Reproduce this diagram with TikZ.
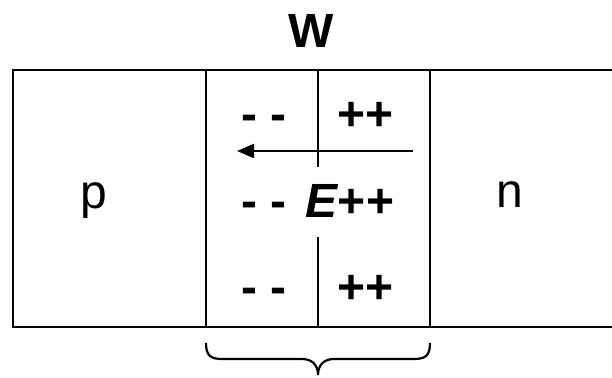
\documentclass[tikz,border=0pt]{standalone}
\usepackage{fontspec}
\setmainfont{Liberation Sans}
\usetikzlibrary{arrows.meta}
\begin{document}
\begin{tikzpicture}[x=1pt,y=-1pt,
  frame/.style={line width=2.8pt},
  divider/.style={line width=2.3pt},
  lbl/.style={inner sep=0pt,anchor=base,font=\fontsize{48}{58}\selectfont},
  charge/.style={lbl,font=\fontsize{48}{58}\selectfont\bfseries},
  field/.style={line width=2.3pt,-{Triangle[length=17pt,width=14pt]}},
  bracepath/.style={line width=2.2pt}]
\useasboundingbox (0,0) rectangle (612,377);
\clip (0,0) rectangle (612,377);
% frame (right side runs off the picture)
\draw[frame] (640,70) -- (13,70) -- (13,327) -- (640,327);
% dividers
\draw[divider] (206,70) -- (206,327);
\draw[divider] (430,70) -- (430,327);
\draw[divider] (318,70) -- (318,167);
\draw[divider] (318,237) -- (318,327);
% labels
\node[lbl,font=\fontsize{48}{58}\selectfont\bfseries] (W) at (311.5,48) {W};
\node[lbl] (p) at (94,208) {p};
\node[lbl] (n) at (510,207) {n};
\node[charge] (m1) at (264,130) {- -};
\node[charge] (p1) at (365.5,130) {++};
\node[charge] (m2) at (264,217) {- -};
\node[charge] (p2) at (350,217) {\itshape E\upshape++};
\node[charge] (m3) at (264,303) {- -};
\node[charge] (p3) at (365.5,303) {++};
% field arrow
\coordinate (a0) at (413,151);
\coordinate (a1) at (237,151);
\draw[field] (a0) -- (a1);
% brace
\draw[bracepath] (206,343) .. controls (206,355) and (210,359) .. (222,359)
  -- (302,359) .. controls (312,359) and (318,365) .. (318,375)
  .. controls (318,365) and (324,359) .. (334,359)
  -- (414,359) .. controls (426,359) and (430,355) .. (430,343);
\end{tikzpicture}
\end{document}
